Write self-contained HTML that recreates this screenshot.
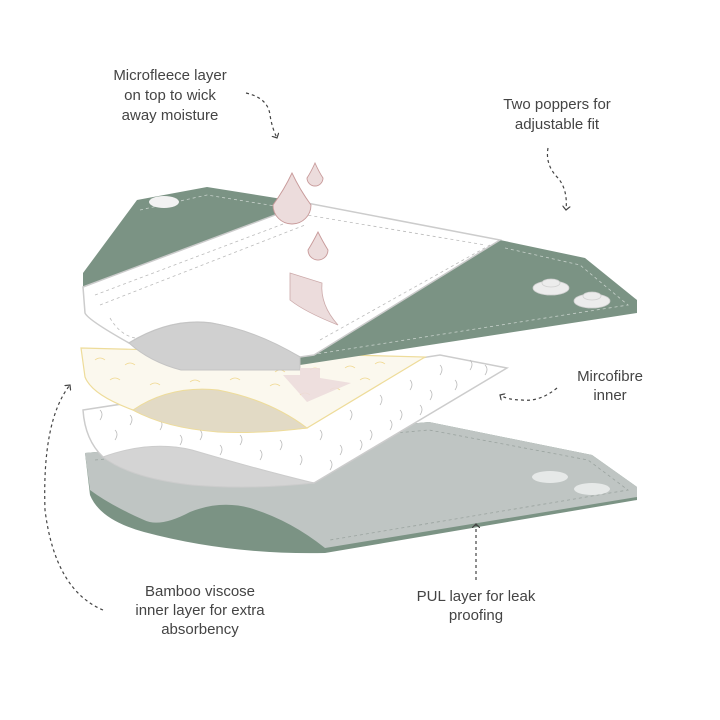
<!DOCTYPE html>
<html><head><meta charset="utf-8"><style>
html,body{margin:0;padding:0;background:#fff;width:720px;height:720px;overflow:hidden}
svg{display:block}
text{font-family:"Liberation Sans",sans-serif;font-size:15px;fill:#444;text-anchor:middle}
</style></head><body>
<svg width="720" height="720" viewBox="0 0 720 720">
<defs>
<marker id="ah" markerWidth="8" markerHeight="8" refX="4" refY="4" orient="auto" markerUnits="userSpaceOnUse"><path d="M0,0 L4,4 L0,8" fill="none" stroke="#444" stroke-width="1.2"/></marker>
</defs>
<!-- bottom PUL layer -->
<path d="M85,453 L429,422 L592,455 L637,487 L637,500 L325,553 Q230,555 144,532 Q100,520 90,495 Z" fill="#7b9384"/>
<path d="M85,453 L429,422 L592,455 L637,487 L637,497 L325,548 Q290,520 250,508 Q220,500 190,512 Q160,528 144,520 Q110,505 90,490 Z" fill="#bfc5c3"/>
<path d="M95,460 L429,430 L588,460 L628,490 L330,540" fill="none" stroke="#9aa39f" stroke-width="0.8" stroke-dasharray="3,3"/>
<ellipse cx="550" cy="477" rx="18" ry="6" fill="#e6e9e8"/>
<ellipse cx="592" cy="489" rx="18" ry="6" fill="#e6e9e8"/>
<!-- white swirl layer -->
<path d="M83,410 L440,355 L507,368 L314,483 Q250,475 192,477 Q130,475 103,457 Q85,440 83,410 Z" fill="#fff" stroke="#ccc" stroke-width="1.5"/>
<path d="M103,457 Q150,440 192,450 Q260,470 314,483 Q250,490 192,485 Q130,478 103,457 Z" fill="#d4d4d4" stroke="#ccc" stroke-width="1"/>
<g fill="none" stroke="#bbb" stroke-width="0.8">
<path d="M100,420 q4,-6 0,-10 M130,425 q4,-6 0,-10 M160,430 q4,-6 0,-10 M200,440 q4,-6 0,-10 M240,445 q4,-6 0,-10 M280,450 q4,-6 0,-10 M320,440 q4,-6 0,-10 M350,420 q4,-6 0,-10 M380,405 q4,-6 0,-10 M410,390 q4,-6 0,-10 M440,375 q4,-6 0,-10 M470,370 q4,-6 0,-10 M300,465 q4,-6 0,-10 M340,455 q4,-6 0,-10 M370,440 q4,-6 0,-10 M400,420 q4,-6 0,-10 M430,400 q4,-6 0,-10 M260,460 q4,-6 0,-10 M220,455 q4,-6 0,-10 M115,440 q4,-6 0,-10 M180,445 q4,-6 0,-10 M455,390 q4,-6 0,-10 M420,415 q4,-6 0,-10 M390,430 q4,-6 0,-10 M360,450 q4,-6 0,-10 M330,470 q4,-6 0,-10 M485,375 q4,-6 0,-10"/>
</g>
<!-- yellow bamboo layer -->
<path d="M81,348 L425,357 L307,428 Q260,432 218,430 Q160,425 133,410 Q92,395 85,377 Z" fill="#fbf8ee" stroke="#eedc9a" stroke-width="1.2"/>
<path d="M133,410 Q170,385 218,390 Q270,400 307,428 Q260,434 218,432 Q165,428 133,410 Z" fill="#e2dac5" stroke="#eedc9a" stroke-width="1"/>
<g fill="none" stroke="#f0d890" stroke-width="0.8">
<path d="M95,360 q5,-4 10,0 M125,365 q5,-4 10,0 M155,360 q5,-4 10,0 M185,368 q5,-4 10,0 M215,365 q5,-4 10,0 M245,370 q5,-4 10,0 M275,372 q5,-4 10,0 M310,370 q5,-4 10,0 M345,368 q5,-4 10,0 M375,364 q5,-4 10,0 M110,380 q5,-4 10,0 M150,385 q5,-4 10,0 M330,390 q5,-4 10,0 M360,380 q5,-4 10,0 M190,382 q5,-4 10,0 M230,380 q5,-4 10,0 M270,386 q5,-4 10,0 M300,395 q5,-4 10,0"/>
</g>
<!-- top layer green back -->
<path d="M137,200 L207,187 L307,203 L500,240 L585,258 L637,300 L637,313 L300,365 L300,353 L83,287 L83,273 Z" fill="#7b9384"/>
<path d="M140,210 L207,195 L300,210 M505,248 L580,265 L628,305 L310,355" fill="none" stroke="#c7d1cb" stroke-width="0.8" stroke-dasharray="3,3"/>
<ellipse cx="164" cy="202" rx="15" ry="6" fill="#f2f2f2"/>
<g fill="#ececec" stroke="#d0d0d0" stroke-width="0.8">
<ellipse cx="551" cy="288" rx="18" ry="7"/><ellipse cx="551" cy="283" rx="9" ry="4"/>
<ellipse cx="592" cy="301" rx="18" ry="7"/><ellipse cx="592" cy="296" rx="9" ry="4"/>
</g>
<!-- white top -->
<path d="M83,287 L307,203 L500,240 L314,355 L300,357 Q250,330 211,323 Q170,318 129,343 Q88,320 85,313 Z" fill="#fff" stroke="#ccc" stroke-width="1.5"/>
<path d="M129,343 Q170,318 211,323 Q255,330 300,357 L300,370 L181,370 Q150,362 129,343 Z" fill="#d0d0d0" stroke="#c4c4c4" stroke-width="1"/>
<path d="M95,295 L307,215 L485,245 M100,305 L305,225 M110,318 Q120,335 135,338 M320,340 L490,245" fill="none" stroke="#bbb" stroke-width="0.8" stroke-dasharray="3,3"/>
<!-- pink arrows & drops -->
<path d="M290,273 L322,283 Q320,305 338,325 Q305,312 290,300 Z" fill="#ecdcdc" stroke="#caa" stroke-width="0.8"/>
<path d="M283,375 L300,375 L300,368 L320,368 L320,378 L351,383 L307,402 Z" fill="#ecdcdc" opacity="0.9"/>
<g fill="#ecdcdc" stroke="#c89a9a" stroke-width="0.9">
<path d="M292,173 Q300,190 311,205 A19,19 0 1 1 273,205 Q284,190 292,173 Z"/>
<path d="M315,163 Q319,172 323,178 A8,8 0 1 1 307,178 Q311,172 315,163 Z"/>
<path d="M318,232 Q323,242 328,250 A10,10 0 1 1 308,250 Q313,242 318,232 Z"/>
</g>
<!-- labels -->
<text x="170" y="80">Microfleece layer</text>
<text x="170" y="100">on top to wick</text>
<text x="170" y="120">away moisture</text>
<text x="557" y="109">Two poppers for</text>
<text x="557" y="129">adjustable fit</text>
<text x="610" y="381">Mircofibre</text>
<text x="610" y="400">inner</text>
<text x="200" y="596">Bamboo viscose</text>
<text x="200" y="615">inner layer for extra</text>
<text x="200" y="634">absorbency</text>
<text x="476" y="601">PUL layer for leak</text>
<text x="476" y="620">proofing</text>
<!-- dashed connectors -->
<g fill="none" stroke="#444" stroke-width="1.2" stroke-dasharray="3,3">
<path d="M246,93 Q268,98 270,115 Q272,128 277,138" marker-end="url(#ah)"/>
<path d="M548,148 Q545,165 558,178 Q568,190 566,210" marker-end="url(#ah)"/>
<path d="M557,388 Q540,402 522,400 Q508,400 500,395" marker-end="url(#ah)"/>
<path d="M103,610 Q55,590 45,510 Q42,420 70,385" marker-end="url(#ah)"/>
<path d="M476,580 L476,524" marker-end="url(#ah)"/>
</g>
</svg>
</body></html>
